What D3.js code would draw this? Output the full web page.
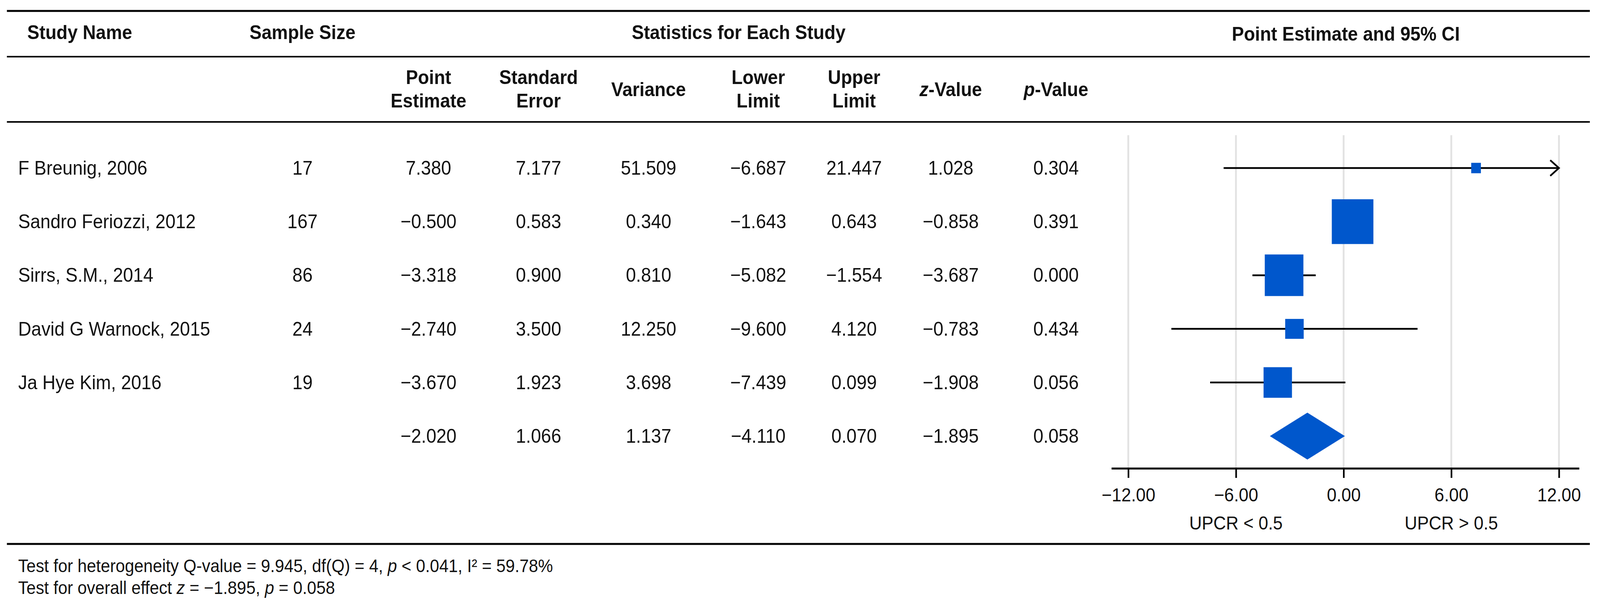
<!DOCTYPE html>
<html>
<head>
<meta charset="utf-8">
<script src="https://cdn.jsdelivr.net/npm/d3@7"></script>
<style>
  html, body { margin: 0; padding: 0; background: #fff; overflow: hidden; }
  svg { display: block; }
  text { font-family: "Liberation Sans", Arial, Helvetica, sans-serif; fill: #111; }
</style>
</head>
<body>
<svg id="chart" viewBox="0 0 4406 1538" preserveAspectRatio="none"></svg>
<script>
// ---------------- DATA ----------------
const studies = ["F Breunig, 2006", "Sandro Feriozzi, 2012", "Sirrs, S.M., 2014", "David G Warnock, 2015", "Ja Hye Kim, 2016"];
const sampleSize = [17, 167, 86, 24, 19];
const pointEstimate = [7.380, -0.500, -3.318, -2.740, -3.670, -2.020];
const standardError = [7.177, 0.583, 0.900, 3.500, 1.923, 1.066];
const variance = [51.509, 0.340, 0.810, 12.250, 3.698, 1.137];
const lowerLimit = [-6.687, -1.643, -5.082, -9.600, -7.439, -4.110];
const upperLimit = [21.447, 0.643, -1.554, 4.120, 0.099, 0.070];
const zValue = [1.028, -0.858, -3.687, -0.783, -1.908, -1.895];
const pValue = [0.304, 0.391, 0.000, 0.434, 0.056, 0.058];

// values as drawn in the forest plot
const plotEstimate = [7.380, 0.500, -3.318, -2.740, -3.670];
const plotLower = [-6.687, -0.643, -5.082, -9.600, -7.439];
const plotUpper = [21.447, 1.643, -1.554, 4.120, 0.099];
const relWeight = [2.10, 38.75, 33.41, 7.66, 18.07];   // % weights -> marker size
const summaryPlot = { est: -2.020, lo: -4.110, hi: 0.070 };

const tickValues = [-12, -6, 0, 6, 12];
const xDomain = [-12, 12];
const sideLabels = [{ v: -6, t: "UPCR < 0.5" }, { v: 6, t: "UPCR > 0.5" }];

const topHeaders = [
  { t: "Study Name", x: 75, anchor: "start" },
  { t: "Sample Size", x: 833, anchor: "middle" },
  { t: "Statistics for Each Study", x: 2034, anchor: "middle" }
];
const subHeaders = [
  { lines: ["Point", "Estimate"] },
  { lines: ["Standard", "Error"] },
  { lines: ["Variance"] },
  { lines: ["Lower", "Limit"] },
  { lines: ["Upper", "Limit"] },
  { lines: [["z", "-Value"]] },
  { lines: [["p", "-Value"]] }
];
const footnotes = [
  [["Test for heterogeneity Q-value = 9.945, df(Q) = 4, ", false], ["p", true], [" < 0.041, I² = 59.78%", false]],
  [["Test for overall effect ", false], ["z", true], [" = −1.895, ", false], ["p", true], [" = 0.058", false]]
];

// ---------------- LAYOUT ----------------
const VW = 4406, VH = 1538;
const svg = d3.select("#chart");
function fit() {
  svg.attr("width", window.innerWidth || VW).attr("height", window.innerHeight || VH);
}
fit();
window.addEventListener("resize", fit);

const colX = [1180, 1483, 1786, 2088, 2352, 2618, 2908];
const nameX = 50, sizeX = 833;
const f3 = d3.format(".3f");

const rowIds = d3.range(6);
const y = d3.scalePoint().domain(rowIds).range([430, 1116]);
const x = d3.scaleLinear().domain(xDomain).range([3107, 4293]);
const size = d3.scaleSqrt().domain([0, 40]).range([0, 116.4]);

// table rules
const rules = [{ y: 28, w: 5 }, { y: 145, w: 4 }, { y: 312, w: 4 }, { y: 1392, w: 5 }];
svg.selectAll("line.rule").data(rules).join("line")
  .attr("class", "rule")
  .attr("x1", 19).attr("x2", 4378)
  .attr("y1", d => d.y).attr("y2", d => d.y)
  .attr("stroke", "#000").attr("stroke-width", d => d.w);

// top headers
svg.selectAll("text.th").data(topHeaders).join("text")
  .attr("class", "th")
  .attr("x", d => d.x).attr("y", 100)
  .attr("text-anchor", d => d.anchor)
  .attr("font-size", 50).attr("font-weight", "bold")
  .text(d => d.t);
svg.append("text")
  .attr("x", 3706).attr("y", 104)
  .attr("text-anchor", "middle")
  .attr("font-size", 50).attr("font-weight", "bold")
  .text("Point Estimate and 95% CI");

// sub headers
subHeaders.forEach((h, i) => {
  const baselines = h.lines.length === 2 ? [215, 275] : [246];
  h.lines.forEach((ln, j) => {
    const t = svg.append("text")
      .attr("x", colX[i]).attr("y", baselines[j])
      .attr("text-anchor", "middle")
      .attr("font-size", 50).attr("font-weight", "bold");
    if (Array.isArray(ln)) {
      t.append("tspan").attr("font-style", "italic").text(ln[0]);
      t.append("tspan").text(ln[1]);
    } else {
      t.text(ln);
    }
  });
});

// body rows
const body = svg.append("g").attr("font-size", 50);
body.selectAll("text.name").data(studies).join("text")
  .attr("class", "name")
  .attr("x", nameX).attr("y", (d, i) => y(i) + 17)
  .text(d => d);
body.selectAll("text.size").data(sampleSize).join("text")
  .attr("class", "size")
  .attr("x", sizeX).attr("y", (d, i) => y(i) + 17)
  .attr("text-anchor", "middle")
  .text(d => d);

const cols = [pointEstimate, standardError, variance, lowerLimit, upperLimit, zValue, pValue];
cols.forEach((arr, c) => {
  body.selectAll("text.c" + c).data(arr).join("text")
    .attr("class", "c" + c)
    .attr("x", colX[c]).attr("y", (d, i) => y(i) + 17)
    .attr("text-anchor", "middle")
    .text(d => f3(d));
});

// forest plot
const plot = svg.append("g");
plot.selectAll("line.grid").data(tickValues).join("line")
  .attr("class", "grid")
  .attr("x1", d => x(d)).attr("x2", d => x(d))
  .attr("y1", 346).attr("y2", 1199)
  .attr("stroke", "#e2e2e2").attr("stroke-width", 5);

const studyData = studies.map((s, i) => ({
  i, est: plotEstimate[i], lo: plotLower[i], hi: plotUpper[i], w: relWeight[i]
}));

// CI lines (clipped at axis limits)
plot.selectAll("line.ci").data(studyData).join("line")
  .attr("class", "ci")
  .attr("x1", d => x(Math.max(d.lo, xDomain[0])))
  .attr("x2", d => x(Math.min(d.hi, xDomain[1])))
  .attr("y1", d => y(d.i)).attr("y2", d => y(d.i))
  .attr("stroke", "#000").attr("stroke-width", 4.5);

// arrows for CIs beyond range
plot.selectAll("path.arrow").data(studyData.filter(d => d.hi > xDomain[1])).join("path")
  .attr("class", "arrow")
  .attr("d", d => {
    const xe = x(xDomain[1]), yc = y(d.i);
    return `M${xe - 24},${yc - 20}L${xe},${yc}L${xe - 24},${yc + 20}`;
  })
  .attr("fill", "none").attr("stroke", "#000").attr("stroke-width", 4.5);

// boxes
plot.selectAll("rect.box").data(studyData).join("rect")
  .attr("class", "box")
  .attr("x", d => x(d.est) - size(d.w) / 2)
  .attr("y", d => y(d.i) - size(d.w) / 2)
  .attr("width", d => size(d.w)).attr("height", d => size(d.w))
  .attr("fill", "#0057cc");

// summary diamond
const ys = y(5);
plot.append("path")
  .attr("d", `M${x(summaryPlot.lo)},${ys}L${x(summaryPlot.est)},${ys - 60}L${x(summaryPlot.hi)},${ys}L${x(summaryPlot.est)},${ys + 60}Z`)
  .attr("fill", "#0057cc");

// axis
const axisG = plot.append("g").attr("transform", "translate(0,1199)");
axisG.append("line")
  .attr("x1", 3061).attr("x2", 4349).attr("y1", 0).attr("y2", 0)
  .attr("stroke", "#000").attr("stroke-width", 5);
const axis = d3.axisBottom(x).tickValues(tickValues).tickSize(24).tickPadding(26)
  .tickFormat(d3.format(".2f"));
axisG.call(axis);
axisG.select(".domain").remove();
axisG.selectAll(".tick line").attr("stroke", "#000").attr("stroke-width", 4.5);
axisG.selectAll(".tick text")
  .attr("font-size", 48)
  .attr("font-family", "'Liberation Sans', Arial, sans-serif")
  .attr("fill", "#111");

plot.selectAll("text.side").data(sideLabels).join("text")
  .attr("class", "side")
  .attr("x", d => x(d.v)).attr("y", 1355)
  .attr("text-anchor", "middle")
  .attr("font-size", 48)
  .text(d => d.t);

// footnotes
footnotes.forEach((parts, k) => {
  const t = svg.append("text")
    .attr("x", nameX).attr("y", [1464, 1520][k])
    .attr("font-size", 46);
  parts.forEach(p => {
    const s = t.append("tspan").text(p[0]);
    if (p[1]) s.attr("font-style", "italic");
  });
});
</script>
</body>
</html>
